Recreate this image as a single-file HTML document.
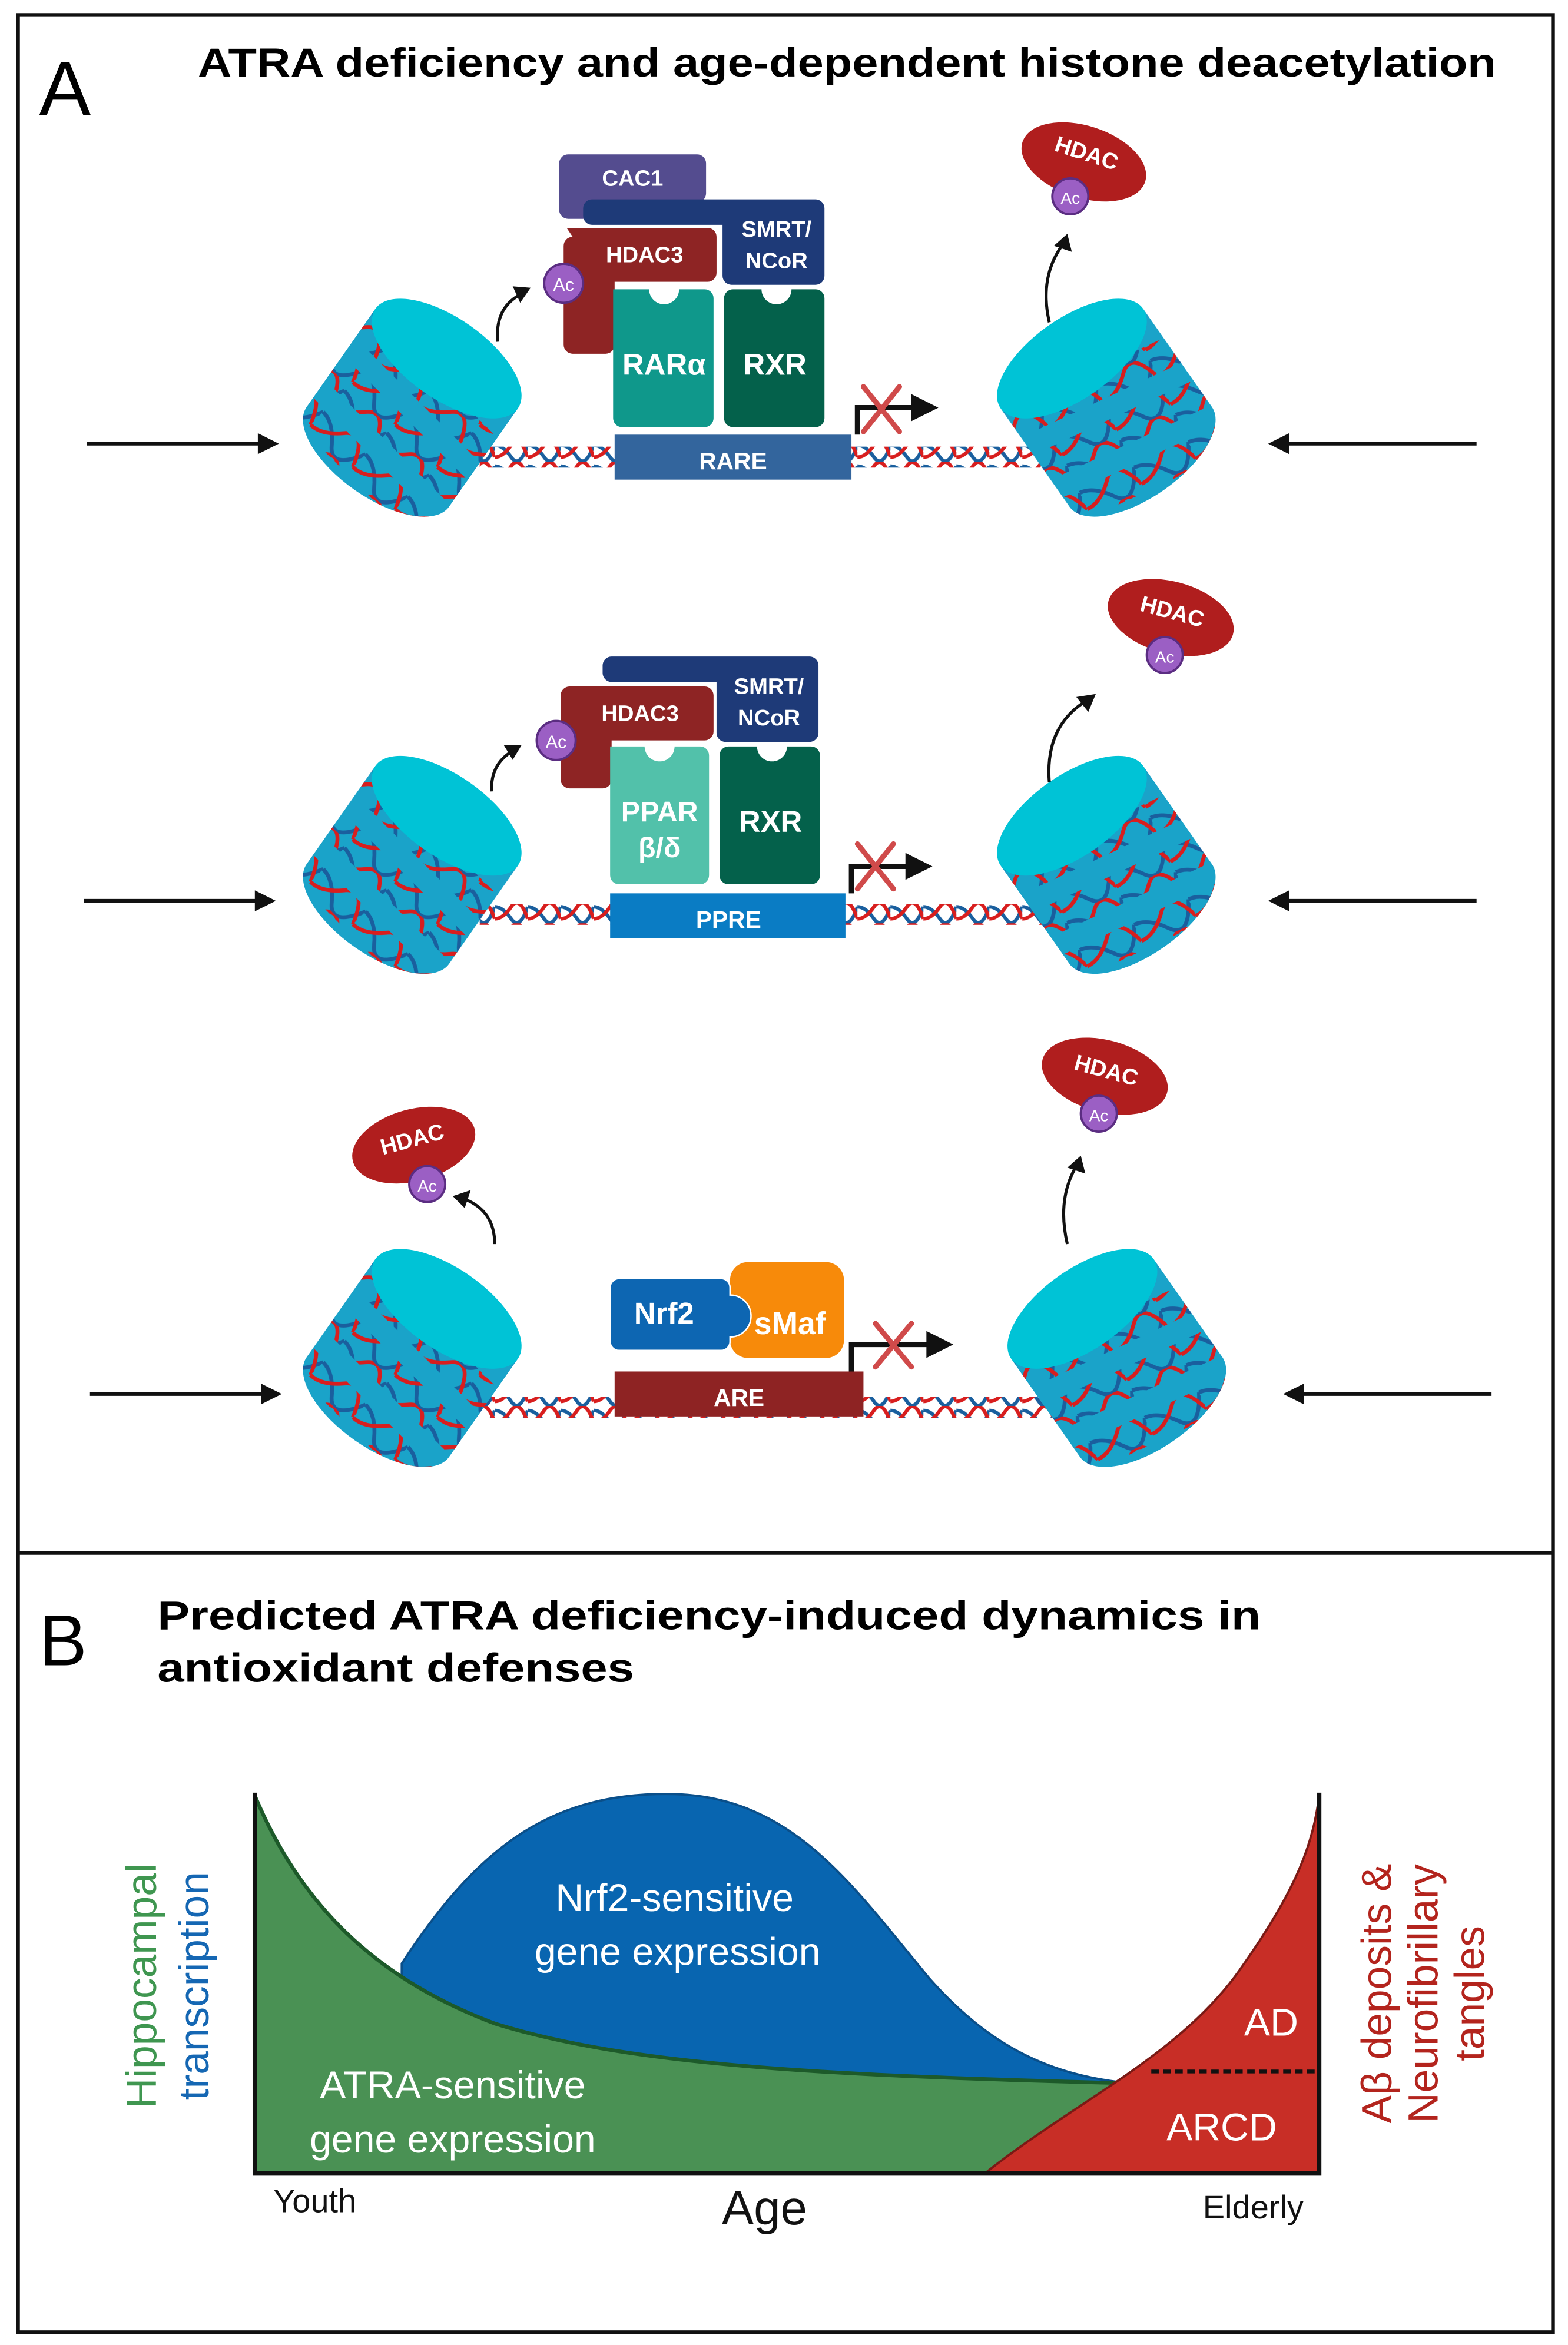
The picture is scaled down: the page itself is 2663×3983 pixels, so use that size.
<!DOCTYPE html>
<html><head><meta charset="utf-8"><style>html,body{margin:0;padding:0;background:#fff}svg{display:block}</style></head>
<body>
<svg width="2663" height="3983" viewBox="0 0 1046 1564.5" xmlns="http://www.w3.org/2000/svg" font-family="Liberation Sans, sans-serif">
<defs>
<pattern id="dna" width="22" height="14" patternUnits="userSpaceOnUse">
<path d="M0,3 Q5.5,3 11,11 T22,3" fill="none" stroke="#1a5f9e" stroke-width="2.4"/>
<path d="M0,11 Q5.5,11 11,3 T22,11" fill="none" stroke="#d81e1e" stroke-width="2.4"/>
</pattern>
<pattern id="dna2" width="40" height="20" patternUnits="userSpaceOnUse">
<path d="M0,4 Q10,4 20,16 T40,4" fill="none" stroke="#1a5f9e" stroke-width="2.6"/>
<path d="M0,16 Q10,16 20,4 T40,16" fill="none" stroke="#d81e1e" stroke-width="2.6"/>
</pattern>
<clipPath id="bodyclip"><path d="M-58,-40 L-58,40 A58,27 0 0 0 58,40 L58,-40 Z"/></clipPath>
<g id="nuc">
<path d="M-58,-40 L-58,40 A58,27 0 0 0 58,40 L58,-40 Z" fill="#1aa3c9"/>
<g clip-path="url(#bodyclip)">
<rect x="-70" y="-26" width="140" height="20" fill="url(#dna2)" transform="rotate(10)"/>
<rect x="-70" y="8" width="140" height="20" fill="url(#dna2)" transform="rotate(10)"/>
<rect x="-70" y="42" width="140" height="20" fill="url(#dna2)" transform="rotate(10)"/>
</g>
<ellipse cx="0" cy="-40" rx="58" ry="27" fill="#00c3d6"/>
</g>
</defs>

<rect x="12" y="10" width="1024" height="1546" fill="none" stroke="#111" stroke-width="2.5"/>
<line x1="12" y1="1036" x2="1036" y2="1036" stroke="#111" stroke-width="2.5"/>

<text x="26" y="77" font-size="52">A</text>
<text x="132" y="51" font-size="27" font-weight="bold" textLength="866" lengthAdjust="spacingAndGlyphs">ATRA deficiency and age-dependent histone deacetylation</text>

<!-- ROW 1 -->
<g>
<rect x="320" y="298" width="390" height="14" fill="url(#dna)"/>
<use href="#nuc" transform="translate(275,272) rotate(35)"/>
<use href="#nuc" transform="translate(738,272) rotate(-35)"/>
<line x1="58" y1="296" x2="175" y2="296" stroke="#111" stroke-width="2.5"/><path d="M172,289 L186,296 L172,303 Z" fill="#111"/>
<line x1="985" y1="296" x2="858" y2="296" stroke="#111" stroke-width="2.5"/><path d="M860,289 L846,296 L860,303 Z" fill="#111"/>
<path d="M385,103 h80 a6,6 0 0 1 6,6 v20 a6,6 0 0 1 -6,6 h-45 a6,6 0 0 0 -6,6 v5 h-35 a6,6 0 0 1 -6,-6 v-31 a6,6 0 0 1 6,-6 z" fill="#544c8f"/>
<text x="422" y="124" font-size="15" font-weight="bold" fill="#fff" text-anchor="middle">CAC1</text>
<path d="M395,133 h149 a6,6 0 0 1 6,6 v45 a6,6 0 0 1 -6,6 h-56 a6,6 0 0 1 -6,-6 v-34 h-87 a6,6 0 0 1 -6,-6 v-5 a6,6 0 0 1 6,-6 z" fill="#1e3a78"/>
<text x="518" y="158" font-size="15" font-weight="bold" fill="#fff" text-anchor="middle">SMRT/</text>
<text x="518" y="179" font-size="15" font-weight="bold" fill="#fff" text-anchor="middle">NCoR</text>
<path d="M378,152 h94 a6,6 0 0 1 6,6 v24 a6,6 0 0 1 -6,6 h-62 v42 a6,6 0 0 1 -6,6 h-22 a6,6 0 0 1 -6,-6 v-66 a6,6 0 0 1 6,-6 z" fill="#8e2424"/>
<text x="430" y="175" font-size="15" font-weight="bold" fill="#fff" text-anchor="middle">HDAC3</text>
<circle cx="376" cy="189" r="13" fill="#9b5fc4" stroke="#5b2d82" stroke-width="1.5"/>
<text x="376" y="194" font-size="12" fill="#fff" text-anchor="middle">Ac</text>
<path d="M409,193 h24 a10,10 0 0 0 20,0 h17 a6,6 0 0 1 6,6 v80 a6,6 0 0 1 -6,6 h-55 a6,6 0 0 1 -6,-6 z" fill="#0f988b"/>
<text x="443" y="250" font-size="20" font-weight="bold" fill="#fff" text-anchor="middle">RARα</text>
<path d="M489,193 h19 a10,10 0 0 0 20,0 h16 a6,6 0 0 1 6,6 v80 a6,6 0 0 1 -6,6 h-55 a6,6 0 0 1 -6,-6 v-80 a6,6 0 0 1 6,-6 z" fill="#04614b"/>
<text x="517" y="250" font-size="20" font-weight="bold" fill="#fff" text-anchor="middle">RXR</text>
<rect x="410" y="290" width="158" height="30" fill="#33659d"/>
<text x="489" y="313" font-size="16" font-weight="bold" fill="#fff" text-anchor="middle">RARE</text>
<path d="M572,290 V272 H610" fill="none" stroke="#111" stroke-width="3.5"/><path d="M608,263 L626,272 L608,281 Z" fill="#111"/>
<path d="M576,258 L600,288 M600,258 L576,288" stroke="#d04a4a" stroke-width="3.5" stroke-linecap="round"/>
<path d="M332,228 Q330,205 348,196" fill="none" stroke="#111" stroke-width="2"/><path d="M342,191 L354,192 L347,202 Z" fill="#111"/>
<g transform="rotate(18 723 108)"><ellipse cx="723" cy="108" rx="43" ry="24" fill="#b01e1e"/><text x="723" y="107" font-size="15" font-weight="bold" fill="#fff" text-anchor="middle">HDAC</text></g>
<circle cx="714" cy="131" r="12" fill="#9b5fc4" stroke="#5b2d82" stroke-width="1.5"/><text x="714" y="136" font-size="11" fill="#fff" text-anchor="middle">Ac</text>
<path d="M700,215 Q693,185 709,163" fill="none" stroke="#111" stroke-width="2"/><path d="M703,164 L712,156 L715,168 Z" fill="#111"/>
</g>

<!-- ROW 2 -->
<g>
<rect x="320" y="603" width="390" height="14" fill="url(#dna)"/>
<use href="#nuc" transform="translate(275,577) rotate(35)"/>
<use href="#nuc" transform="translate(738,577) rotate(-35)"/>
<line x1="56" y1="601" x2="173" y2="601" stroke="#111" stroke-width="2.5"/><path d="M170,594 L184,601 L170,608 Z" fill="#111"/>
<line x1="985" y1="601" x2="858" y2="601" stroke="#111" stroke-width="2.5"/><path d="M860,594 L846,601 L860,608 Z" fill="#111"/>
<path d="M408,438 h132 a6,6 0 0 1 6,6 v45 a6,6 0 0 1 -6,6 h-56 a6,6 0 0 1 -6,-6 v-34 h-70 a6,6 0 0 1 -6,-6 v-5 a6,6 0 0 1 6,-6 z" fill="#1e3a78"/>
<text x="513" y="463" font-size="15" font-weight="bold" fill="#fff" text-anchor="middle">SMRT/</text>
<text x="513" y="484" font-size="15" font-weight="bold" fill="#fff" text-anchor="middle">NCoR</text>
<path d="M376,458 h94 a6,6 0 0 1 6,6 v24 a6,6 0 0 1 -6,6 h-62 v26 a6,6 0 0 1 -6,6 h-22 a6,6 0 0 1 -6,-6 v-56 a6,6 0 0 1 6,-6 z" fill="#8e2424"/>
<text x="427" y="481" font-size="15" font-weight="bold" fill="#fff" text-anchor="middle">HDAC3</text>
<circle cx="371" cy="494" r="13" fill="#9b5fc4" stroke="#5b2d82" stroke-width="1.5"/><text x="371" y="499" font-size="12" fill="#fff" text-anchor="middle">Ac</text>
<path d="M407,498 h23 a10,10 0 0 0 20,0 h17 a6,6 0 0 1 6,6 v80 a6,6 0 0 1 -6,6 h-54 a6,6 0 0 1 -6,-6 z" fill="#52c1aa"/>
<text x="440" y="548" font-size="19" font-weight="bold" fill="#fff" text-anchor="middle">PPAR</text>
<text x="440" y="572" font-size="19" font-weight="bold" fill="#fff" text-anchor="middle">β/δ</text>
<path d="M486,498 h19 a10,10 0 0 0 20,0 h16 a6,6 0 0 1 6,6 v80 a6,6 0 0 1 -6,6 h-55 a6,6 0 0 1 -6,-6 v-80 a6,6 0 0 1 6,-6 z" fill="#04614b"/>
<text x="514" y="555" font-size="20" font-weight="bold" fill="#fff" text-anchor="middle">RXR</text>
<rect x="407" y="596" width="157" height="30" fill="#0a7cc4"/>
<text x="486" y="619" font-size="16" font-weight="bold" fill="#fff" text-anchor="middle">PPRE</text>
<path d="M568,596 V578 H606" fill="none" stroke="#111" stroke-width="3.5"/><path d="M604,569 L622,578 L604,587 Z" fill="#111"/>
<path d="M572,563 L596,593 M596,563 L572,593" stroke="#d04a4a" stroke-width="3.5" stroke-linecap="round"/>
<path d="M328,528 Q327,510 342,501" fill="none" stroke="#111" stroke-width="2"/><path d="M336,497 L348,497 L342,507 Z" fill="#111"/>
<g transform="rotate(15 781 412)"><ellipse cx="781" cy="412" rx="43" ry="24" fill="#b01e1e"/><text x="781" y="413" font-size="15" font-weight="bold" fill="#fff" text-anchor="middle">HDAC</text></g>
<circle cx="777" cy="437" r="12" fill="#9b5fc4" stroke="#5b2d82" stroke-width="1.5"/><text x="777" y="442" font-size="11" fill="#fff" text-anchor="middle">Ac</text>
<path d="M700,522 Q697,485 724,468" fill="none" stroke="#111" stroke-width="2"/><path d="M718,465 L731,463 L726,475 Z" fill="#111"/>
</g>

<!-- ROW 3 -->
<g>
<rect x="320" y="932" width="400" height="14" fill="url(#dna)"/>
<use href="#nuc" transform="translate(275,906) rotate(35)"/>
<use href="#nuc" transform="translate(745,906) rotate(-35)"/>
<line x1="60" y1="930" x2="177" y2="930" stroke="#111" stroke-width="2.5"/><path d="M174,923 L188,930 L174,937 Z" fill="#111"/>
<line x1="995" y1="930" x2="868" y2="930" stroke="#111" stroke-width="2.5"/><path d="M870,923 L856,930 L870,937 Z" fill="#111"/>
<rect x="487" y="842" width="76" height="64" rx="12" fill="#f78a0a"/>
<path d="M413,853 h68 a6,6 0 0 1 6,6 v5 a14,14 0 0 1 0,28 v3 a6,6 0 0 1 -6,6 h-68 a6,6 0 0 1 -6,-6 v-36 a6,6 0 0 1 6,-6 z" fill="#0d66b2" stroke="#fff" stroke-width="1"/>
<text x="443" y="883" font-size="20" font-weight="bold" fill="#fff" text-anchor="middle">Nrf2</text>
<text x="527" y="890" font-size="21" font-weight="bold" fill="#fff" text-anchor="middle">sMaf</text>
<rect x="410" y="915" width="166" height="30" fill="#8e2323"/>
<text x="493" y="938" font-size="16" font-weight="bold" fill="#fff" text-anchor="middle">ARE</text>
<path d="M568,915 V897 H620" fill="none" stroke="#111" stroke-width="3.5"/><path d="M618,888 L636,897 L618,906 Z" fill="#111"/>
<path d="M584,883 L608,912 M608,883 L584,912" stroke="#d04a4a" stroke-width="3.5" stroke-linecap="round"/>
<g transform="rotate(-15 276 764)"><ellipse cx="276" cy="764" rx="42" ry="24" fill="#b01e1e"/><text x="276" y="765" font-size="15" font-weight="bold" fill="#fff" text-anchor="middle">HDAC</text></g>
<circle cx="285" cy="790" r="12" fill="#9b5fc4" stroke="#5b2d82" stroke-width="1.5"/><text x="285" y="795" font-size="11" fill="#fff" text-anchor="middle">Ac</text>
<path d="M330,830 Q330,808 310,800" fill="none" stroke="#111" stroke-width="2"/><path d="M314,794 L302,798 L310,806 Z" fill="#111"/>
<g transform="rotate(15 737 718)"><ellipse cx="737" cy="718" rx="43" ry="24" fill="#b01e1e"/><text x="737" y="719" font-size="15" font-weight="bold" fill="#fff" text-anchor="middle">HDAC</text></g>
<circle cx="733" cy="743" r="12" fill="#9b5fc4" stroke="#5b2d82" stroke-width="1.5"/><text x="733" y="748" font-size="11" fill="#fff" text-anchor="middle">Ac</text>
<path d="M712,830 Q705,800 718,778" fill="none" stroke="#111" stroke-width="2"/><path d="M712,779 L721,771 L724,783 Z" fill="#111"/>
</g>

<!-- PANEL B -->
<text x="26" y="1111" font-size="48">B</text>
<text x="105" y="1087" font-size="27" font-weight="bold" textLength="736" lengthAdjust="spacingAndGlyphs">Predicted ATRA deficiency-induced dynamics in</text>
<text x="105" y="1122" font-size="27" font-weight="bold" textLength="318" lengthAdjust="spacingAndGlyphs">antioxidant defenses</text>

<path d="M268,1310 C320,1230 370,1195 450,1197 C530,1199 570,1260 620,1320 C660,1365 700,1385 755,1390 L755,1410 L268,1410 Z" fill="#0865b0" stroke="#0a4f8a" stroke-width="1.5"/>
<path d="M170,1198 C200,1270 250,1320 330,1350 C420,1378 550,1385 760,1390 L770,1390 L770,1450 L170,1450 Z" fill="#4a9154"/>
<path d="M170,1198 C200,1270 250,1320 330,1350 C420,1378 550,1385 760,1390" fill="none" stroke="#1d5a2a" stroke-width="2.5"/>
<path d="M657,1450 C720,1400 790,1370 830,1310 C865,1260 876,1230 880,1198 L880,1450 Z" fill="#c82e26" stroke="#7a1a15" stroke-width="1.5"/>
<line x1="768" y1="1382" x2="878" y2="1382" stroke="#111" stroke-width="2.5" stroke-dasharray="5,3"/>
<path d="M170,1196 V1450 H880 V1196" fill="none" stroke="#111" stroke-width="3"/>
<text x="450" y="1275" font-size="26" fill="#fff" text-anchor="middle">Nrf2-sensitive</text>
<text x="452" y="1311" font-size="26" fill="#fff" text-anchor="middle">gene expression</text>
<text x="302" y="1400" font-size="26" fill="#fff" text-anchor="middle">ATRA-sensitive</text>
<text x="302" y="1436" font-size="26" fill="#fff" text-anchor="middle">gene expression</text>
<text x="848" y="1358" font-size="26" fill="#fff" text-anchor="middle">AD</text>
<text x="815" y="1428" font-size="26" fill="#fff" text-anchor="middle">ARCD</text>
<text x="210" y="1476" font-size="22" fill="#111" text-anchor="middle">Youth</text>
<text x="510" y="1484" font-size="32" fill="#111" text-anchor="middle">Age</text>
<text x="836" y="1480" font-size="22" fill="#111" text-anchor="middle">Elderly</text>
<text transform="translate(104,1325) rotate(-90)" font-size="28" fill="#3f9650" text-anchor="middle">Hippocampal</text>
<text transform="translate(139,1325) rotate(-90)" font-size="28" fill="#1567b3" text-anchor="middle">transcription</text>
<text transform="translate(928,1330) rotate(-90)" font-size="28" fill="#b3241d" text-anchor="middle">Aβ deposits &amp;</text>
<text transform="translate(959,1330) rotate(-90)" font-size="28" fill="#b3241d" text-anchor="middle">Neurofibrillary</text>
<text transform="translate(990,1330) rotate(-90)" font-size="28" fill="#b3241d" text-anchor="middle">tangles</text>
</svg>
</body></html>
